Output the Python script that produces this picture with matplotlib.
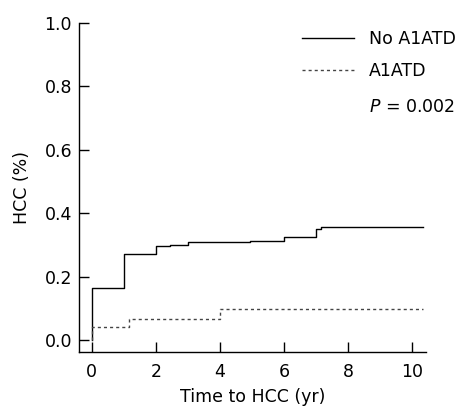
import matplotlib
matplotlib.use("Agg")
import matplotlib.pyplot as plt

# Cumulative HCC incidence (step curves)
no_a1atd_time = [0, 0, 1.0, 2.0, 2.45, 3.0, 4.95, 6.0, 7.0, 7.15, 10.35]
no_a1atd_value = [0, 0.163, 0.272, 0.297, 0.300, 0.308, 0.312, 0.326, 0.350, 0.356, 0.356]

a1atd_time = [0, 0, 1.15, 4.0, 10.35]
a1atd_value = [0, 0.041, 0.065, 0.099, 0.099]

x_ticks = [0, 2, 4, 6, 8, 10]
y_ticks = [0.0, 0.2, 0.4, 0.6, 0.8, 1.0]

fig = plt.figure(figsize=(4.55, 4.09), dpi=100)
ax = fig.add_axes([0.1736, 0.1394, 0.7627, 0.8044])

ax.step(no_a1atd_time, no_a1atd_value, where="post", color="black",
        linewidth=1.0, label="No A1ATD")
ax.step(a1atd_time, a1atd_value, where="post", color="#444444",
        linewidth=1.0, linestyle=(0, (2.2, 2.2)), label="A1ATD")

ax.set_xlim(-0.4, 10.44)
ax.set_ylim(-0.038, 1.0)
ax.set_xticks(x_ticks)
ax.set_yticks(y_ticks)
ax.set_yticklabels([f"{v:.1f}" for v in y_ticks])
ax.tick_params(direction="in", length=7, width=1, labelsize=12.5)
ax.tick_params(axis="x", pad=8)
ax.tick_params(axis="y", pad=5)

for side in ["top", "right"]:
    ax.spines[side].set_visible(False)
for side in ["left", "bottom"]:
    ax.spines[side].set_linewidth(1.0)

ax.set_xlabel("Time to HCC (yr)", fontsize=12.5, labelpad=5)
ax.set_ylabel("HCC (%)", fontsize=12.5, labelpad=10)

ax.legend(loc="upper left", bbox_to_anchor=(0.643, 0.978), frameon=False,
          fontsize=12.5, borderpad=0, borderaxespad=0, handlelength=3.0,
          handletextpad=0.85, labelspacing=0.82)
ax.text(0.836, 0.745, "$P$ = 0.002", transform=ax.transAxes, fontsize=12.5,
        va="center", ha="left")

fig.savefig("out.png", dpi=100)
